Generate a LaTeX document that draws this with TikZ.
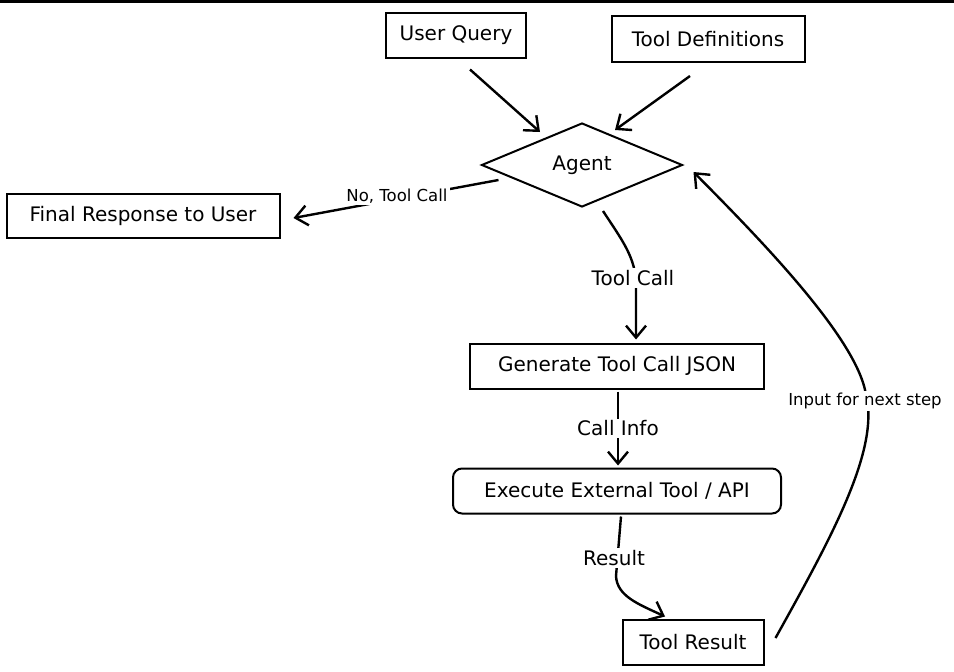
\documentclass[tikz,border=0pt]{standalone}
\usepackage{fontspec}
\setmainfont{DejaVu Sans}
\usetikzlibrary{arrows.meta,shapes.geometric,calc}
\begin{document}
\begin{tikzpicture}[x=1pt,y=-1pt,
  box/.style={draw, line width=2pt, inner sep=0pt, font=\fontsize{20}{24}\selectfont},
  rbox/.style={box, rounded corners=9pt},
  dia/.style={draw, line width=2pt, diamond, inner sep=0pt, font=\fontsize{20}{24}\selectfont},
  arr/.style={line width=2.4pt, -{Straight Barb[length=12pt,width=20pt,line width=2.4pt]}},
  lab/.style={fill=white, inner sep=2pt, font=\fontsize{20}{24}\selectfont},
  slab/.style={fill=white, inner sep=2pt, font=\fontsize{16.5}{19}\selectfont}]
\useasboundingbox (0,0) rectangle (954,672);
\fill (0,0) rectangle (954,2.5);

\node[box, minimum width=140pt, minimum height=45pt] (uq) at (456,35) {User Query};
\node[box, minimum width=193pt, minimum height=46pt] (td) at (708,39) {Tool Definitions};
\node[dia, minimum width=201pt, minimum height=84pt] (agent) at (582,165) {Agent};
\node[box, minimum width=273pt, minimum height=44pt] (fr) at (143,216) {Final Response to User};
\node[box, minimum width=294pt, minimum height=45pt] (gen) at (617,366) {Generate Tool Call JSON};
\node[rbox, minimum width=328pt, minimum height=45pt] (exec) at (617,491) {Execute External Tool / API};
\node[box, minimum width=141pt, minimum height=45pt] (tr) at (693,642) {Tool Result};

\draw[arr] ($(uq.south)+(14,11)$) -- ($(agent.north)+(-42,10)$);
\draw[arr] ($(td.south)+(-18,13)$) -- ($(agent.north)+(33,8)$);
\draw[arr] ($(agent.west)+(18,15)$) -- ($(fr.east)+(13,2)$);
\node[slab] (l0) at (397,196) {No, Tool Call};
\draw[arr] ($(agent.south)+(21,3)$) .. controls (622,240) and (636,258) .. (636,285)
  -- ($(gen.north)+(19,-3)$);
\node[lab] (l1) at (633,278) {Tool Call};
\draw[arr] ($(gen.south)+(1,2)$) -- node[lab] {Call Info} ($(exec.north)+(1,-2)$);
\draw[arr] ($(exec.south)+(4,2)$) -- (616,576) .. controls (617,596) and (638,604) .. ($(tr.north)+(-28,-2)$);
\node[lab] (l2) at (614,558) {Result};
\draw[arr] ($(tr.east)+(11,-4)$) .. controls (830,540) and (880,450) .. (866,395)
  .. controls (858,340) and (763,242) .. ($(agent.east)+(10,7)$);
\node[slab] (l3) at (865,401) {Input for next step};
\end{tikzpicture}
\end{document}
